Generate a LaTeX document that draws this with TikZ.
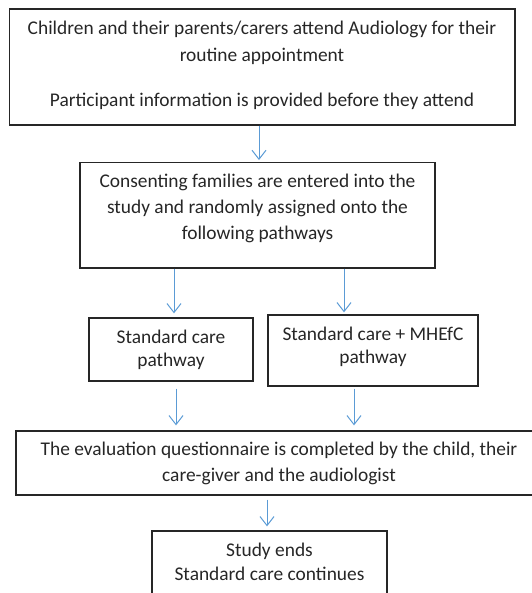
\documentclass[tikz,border=0pt]{standalone}
\usepackage{fontspec}
\setmainfont{Carlito}
\usetikzlibrary{arrows.meta}
\definecolor{arrowblue}{RGB}{91,155,213}
\definecolor{txtgray}{RGB}{38,38,38}
\tikzset{
  box/.style={draw=black!85, line width=1.3pt, rectangle, inner sep=0pt},
  txt/.style={anchor=base, inner sep=0pt, text=txtgray, font=\fontsize{19.4}{23}\selectfont},
  arr/.style={draw=arrowblue, line width=1pt, -{Straight Barb[length=9pt,width=14pt]}}
}
\begin{document}
\begin{tikzpicture}[x=1pt,y=-1pt]
\useasboundingbox (0,0) rectangle (531,593);
% boxes
\node[box, minimum width=505.5pt, minimum height=116pt] (b1) at (262.25,67) {};
\node[box, minimum width=355pt, minimum height=105.3pt] (b2) at (257.5,215.35) {};
\node[box, minimum width=164pt, minimum height=63pt] (b3) at (171,349.5) {};
\node[box, minimum width=210pt, minimum height=71pt] (b4) at (373,350.5) {};
\node[box, minimum width=524pt, minimum height=64pt] (b5) at (278,463) {};
\node[box, minimum width=235pt, minimum height=80pt] (b6) at (269.5,571) {};
% texts
\node[txt] (t1a) at (262,35) {Children and their parents/carers attend Audiology for their};
\node[txt] (t1b) at (262,62) {routine appointment};
\node[txt] (t1c) at (262,107) {Participant information is provided before they attend};
\node[txt] (t2a) at (257.5,188) {Consenting families are entered into the};
\node[txt] (t2b) at (257.5,214) {study and randomly assigned onto the};
\node[txt] (t2c) at (257.5,240) {following pathways};
\node[txt] (t3a) at (171,343) {Standard care};
\node[txt] (t3b) at (171,366) {pathway};
\node[txt] (t4a) at (373,340) {Standard care + MHEfC};
\node[txt] (t4b) at (373,363) {pathway};
\node[txt] (t5a) at (279,455) {The evaluation questionnaire is completed by the child, their};
\node[txt] (t5b) at (279,481) {care-giver and the audiologist};
\node[txt] (t6a) at (269.5,556) {Study ends};
\node[txt] (t6b) at (269.5,580) {Standard care continues};
% arrow x positions
\coordinate (x1) at (259,0);
\coordinate (x2) at (174,0);
\coordinate (x3) at (344,0);
\coordinate (x4) at (176,0);
\coordinate (x5) at (354,0);
\coordinate (x6) at (267,0);
% connectors
\draw[arr, shorten >=2pt] (b1.south -| x1) -- (b2.north -| x1);
\draw[arr, shorten >=4pt] (b2.south -| x2) -- (b3.north -| x2);
\draw[arr, shorten >=2pt] (b2.south -| x3) -- (b4.north -| x3);
\draw[arr, shorten <=7pt, shorten >=5pt] (b3.south -| x4) -- (b5.north -| x4);
\draw[arr, shorten <=2pt, shorten >=5pt] (b4.south -| x5) -- (b5.north -| x5);
\draw[arr, shorten <=4pt, shorten >=4pt] (b5.south -| x6) -- (b6.north -| x6);
\end{tikzpicture}
\end{document}
